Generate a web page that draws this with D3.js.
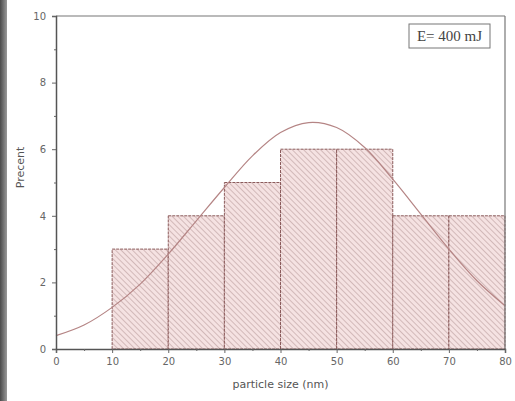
<!DOCTYPE html>
<html lang="en">
<head>
<meta charset="utf-8">
<title>Particle size distribution</title>
<script src="https://cdnjs.cloudflare.com/ajax/libs/d3/7.8.5/d3.min.js"></script>
<style>
    body { margin: 0; background: #fff; }
    .tick text { font-family: "DejaVu Sans", sans-serif; font-size: 10px; fill: #666; }
</style>
</head>
<body>
<div id="chart"></div>
<script>
    // histogram bins (nm) and their percent
    var binStarts = [10, 20, 30, 40, 50, 60, 70];
    var binWidth = 10;
    var percents = [3, 4, 5, 6, 6, 4, 4];

    // fitted curve
    var curveX = [0, 5, 10, 15, 20, 25, 30, 35, 40, 45, 50, 55, 60, 65, 70, 75, 80];
    var curveY = [0.4, 0.72, 1.25, 1.95, 2.85, 3.85, 4.85, 5.8, 6.5, 6.8, 6.65, 6.05, 5.1, 4.05, 3.0, 2.05, 1.3];

    var xTicks = [0, 10, 20, 30, 40, 50, 60, 70, 80];
    var yTicks = [0, 2, 4, 6, 8, 10];

    var W = 515, H = 401;
    var margin = {top: 16, right: 10, bottom: 52, left: 56};
    var width = W - margin.left - margin.right,
        height = H - margin.top - margin.bottom;

    var svg = d3.select("#chart").append("svg")
        .attr("width", W)
        .attr("height", H);

    // dark strip on the left edge of the photo
    var grad = svg.append("defs").append("linearGradient").attr("id", "edge");
    grad.append("stop").attr("offset", "0%").attr("stop-color", "#4a4a4a");
    grad.append("stop").attr("offset", "100%").attr("stop-color", "#9a9a9a");
    svg.append("rect").attr("x", 0).attr("y", 0).attr("width", 7).attr("height", H)
        .attr("fill", "url(#edge)");

    var pat = svg.select("defs").append("pattern")
        .attr("id", "hatch")
        .attr("patternUnits", "userSpaceOnUse")
        .attr("width", 4).attr("height", 4)
        .attr("patternTransform", "rotate(-45)");
    pat.append("rect").attr("width", 4).attr("height", 4).attr("fill", "#f5e2e2");
    pat.append("line").attr("x1", 0).attr("y1", 0).attr("x2", 0).attr("y2", 4)
        .attr("stroke", "#b09090").attr("stroke-width", 1);

    var g = svg.append("g")
        .attr("transform", "translate(" + margin.left + "," + margin.top + ")");

    var x = d3.scaleLinear().domain([0, 80]).range([0, width]);
    var y = d3.scaleLinear().domain([0, 10]).range([height, 0]);

    // bars
    g.selectAll(".bar")
        .data(binStarts)
        .enter().append("rect")
        .attr("class", "bar")
        .attr("x", function (d) { return x(d); })
        .attr("width", function (d) { return x(d + binWidth) - x(d); })
        .attr("y", function (d, i) { return y(percents[i]); })
        .attr("height", function (d, i) { return height - y(percents[i]); })
        .attr("fill", "url(#hatch)")
        .attr("stroke", "#8a5a5a")
        .attr("stroke-width", 1)
        .attr("stroke-dasharray", "3,1");

    // fitted curve
    var line = d3.line()
        .x(function (d, i) { return x(curveX[i]); })
        .y(function (d) { return y(d); })
        .curve(d3.curveCatmullRom);
    g.append("path")
        .datum(curveY)
        .attr("d", line)
        .attr("fill", "none")
        .attr("stroke", "#b58585")
        .attr("stroke-width", 1.2);

    // frame top & right
    g.append("line").attr("x1", 0).attr("x2", width).attr("y1", 0).attr("y2", 0)
        .attr("stroke", "#777").attr("stroke-width", 1.2);
    g.append("line").attr("x1", width).attr("x2", width).attr("y1", 0).attr("y2", height)
        .attr("stroke", "#777").attr("stroke-width", 1.2);

    // axes
    g.append("g")
        .attr("transform", "translate(0," + height + ")")
        .call(d3.axisBottom(x).tickValues(xTicks).tickSize(4).tickPadding(5));
    g.append("g")
        .call(d3.axisLeft(y).tickValues(yTicks).tickSize(4).tickPadding(6));
    // minor ticks
    g.append("g").call(d3.axisLeft(y).tickValues([1, 3, 5, 7, 9]).tickSize(2).tickFormat(""))
        .select(".domain").remove();
    g.append("g").attr("transform", "translate(0," + height + ")")
        .call(d3.axisBottom(x).tickValues([5, 15, 25, 35, 45, 55, 65, 75]).tickSize(2).tickFormat(""))
        .select(".domain").remove();

    g.selectAll(".domain").attr("stroke", "#555").attr("stroke-width", 1.5);
    g.selectAll(".tick line").attr("stroke", "#666");

    // axis titles
    svg.append("text")
        .attr("x", margin.left + width / 2)
        .attr("y", 388)
        .attr("text-anchor", "middle")
        .attr("font-family", "DejaVu Sans, sans-serif")
        .attr("font-size", 11)
        .attr("fill", "#555")
        .text("particle size (nm)");
    svg.append("text")
        .attr("transform", "translate(24," + (margin.top + height / 2 - 15) + ") rotate(-90)")
        .attr("text-anchor", "middle")
        .attr("font-family", "DejaVu Sans, sans-serif")
        .attr("font-size", 11)
        .attr("fill", "#555")
        .text("Precent");

    // label box
    var lbl = g.append("g").attr("transform", "translate(" + (width - 96) + ",8)");
    lbl.append("rect").attr("width", 81).attr("height", 24)
        .attr("fill", "#fff").attr("stroke", "#777").attr("stroke-width", 1);
    lbl.append("text").attr("x", 40.5).attr("y", 17)
        .attr("text-anchor", "middle")
        .attr("font-family", "Liberation Serif, serif")
        .attr("font-size", 15)
        .attr("fill", "#444")
        .text("E= 400 mJ");
</script>
</body>
</html>
